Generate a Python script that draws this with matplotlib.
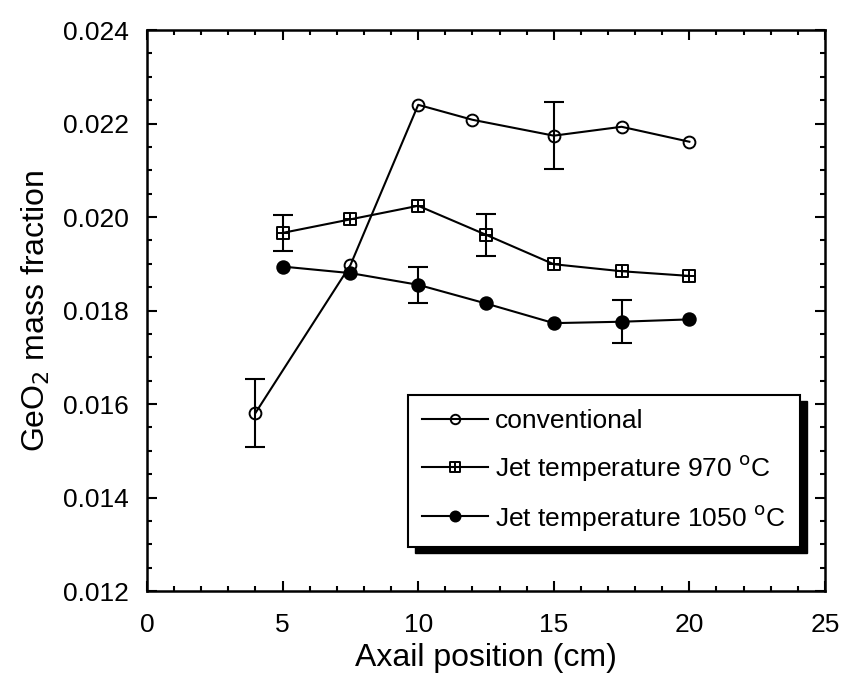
import matplotlib
matplotlib.use("Agg")
import matplotlib.pyplot as plt
from matplotlib.path import Path
from matplotlib.patches import Rectangle
from matplotlib.ticker import MultipleLocator, FormatStrFormatter

plt.rcParams['font.family'] = ['Liberation Sans', 'DejaVu Sans']

# Data
x_conv = [4, 7.5, 10, 12, 15, 17.5, 20]
y_conv = [0.01581, 0.01897, 0.02240, 0.02208, 0.02174, 0.02193, 0.02161]
err_conv = [0.00072, 0, 0, 0, 0.00071, 0, 0]

x_970 = [5, 7.5, 10, 12.5, 15, 17.5, 20]
y_970 = [0.01966, 0.01995, 0.02024, 0.01962, 0.01899, 0.01884, 0.01874]
err_970 = [0.00038, 0, 0, 0.00045, 0, 0, 0]

x_1050 = [5, 7.5, 10, 12.5, 15, 17.5, 20]
y_1050 = [0.01894, 0.01880, 0.01855, 0.01815, 0.01773, 0.01776, 0.01781]
err_1050 = [0, 0, 0.00038, 0, 0, 0.00046, 0]

labels = ['conventional', 'Jet temperature 970 $^\\mathrm{o}$C', 'Jet temperature 1050 $^\\mathrm{o}$C']

# square with cross marker
verts = [(-1, -1), (1, -1), (1, 1), (-1, 1), (-1, -1),
         (0, -1), (0, 1), (-1, 0), (1, 0)]
codes = [Path.MOVETO, Path.LINETO, Path.LINETO, Path.LINETO, Path.CLOSEPOLY,
         Path.MOVETO, Path.LINETO, Path.MOVETO, Path.LINETO]
sq_cross = Path(verts, codes)

fig = plt.figure(figsize=(8.43, 6.79), dpi=100)
ax = fig.add_axes([0.1744, 0.1296, 0.8042, 0.8262])

def series(x, y, e, marker, mfc, ms, label):
    ax.plot(x, y, color='black', lw=1.5, marker=marker, ms=ms, mfc=mfc,
            mec='black', mew=1.4, label=label, zorder=3)
    xe = [xi for xi, ei in zip(x, e) if ei > 0]
    ye = [yi for yi, ei in zip(y, e) if ei > 0]
    ee = [ei for ei in e if ei > 0]
    ax.errorbar(xe, ye, yerr=ee, fmt='none', ecolor='black', elinewidth=1.5,
                capsize=7, capthick=1.5, zorder=2)

series(x_conv, y_conv, err_conv, 'o', 'none', 8.5, labels[0])
series(x_970, y_970, err_970, sq_cross, 'none', 8.5, labels[1])
series(x_1050, y_1050, err_1050, 'o', 'black', 9, labels[2])

ax.set_xlim(0, 25)
ax.set_ylim(0.012, 0.024)
ax.xaxis.set_major_locator(MultipleLocator(5))
ax.xaxis.set_minor_locator(MultipleLocator(1))
ax.yaxis.set_major_locator(MultipleLocator(0.002))
ax.yaxis.set_minor_locator(MultipleLocator(0.0005))
ax.yaxis.set_major_formatter(FormatStrFormatter('%.3f'))
ax.tick_params(which='both', direction='in', top=True, right=True, labelsize=19, width=1.5)
ax.tick_params(which='major', length=7)
ax.tick_params(which='minor', length=3.5)
ax.tick_params(axis='x', which='major', pad=16)
ax.tick_params(axis='y', which='major', pad=13)
for s in ax.spines.values():
    s.set_linewidth(1.8)

ax.set_xlabel('Axail position (cm)', fontsize=23, labelpad=4)
ax.set_ylabel('GeO$_2$ mass fraction', fontsize=23, labelpad=8)

leg = ax.legend(loc='lower right', bbox_to_anchor=(0.963, 0.078), borderaxespad=0,
                fontsize=19, frameon=True, fancybox=False, edgecolor='black', framealpha=1,
                handlelength=2.5, borderpad=0.55, labelspacing=0.75, handletextpad=0.25,
                markerscale=0.8)
leg.get_frame().set_linewidth(1.5)

# black drop shadow behind legend
fig.canvas.draw()
bb = leg.get_window_extent().transformed(fig.transFigure.inverted())
dx, dy = 7 / 843, 6 / 679
shadow = Rectangle((bb.x0 + dx, bb.y0 - dy), bb.width, bb.height,
                   transform=fig.transFigure, facecolor='black', edgecolor='black',
                   zorder=4.9, clip_on=False)
ax.add_patch(shadow)

fig.savefig('out.png', dpi=100)
